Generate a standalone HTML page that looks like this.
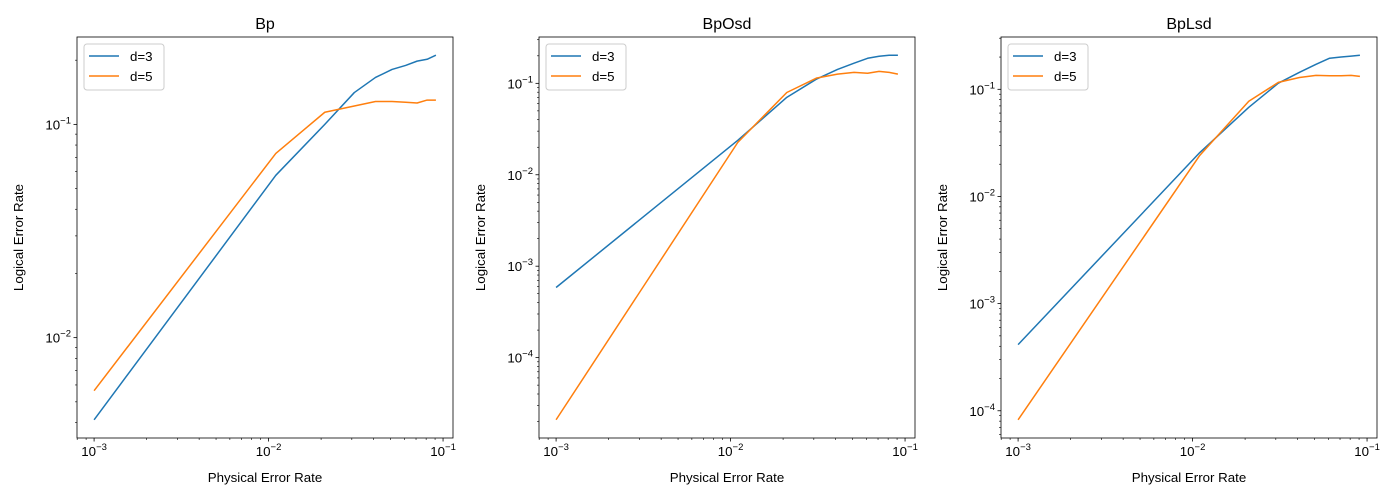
<!DOCTYPE html>
<html><head><meta charset="utf-8"><style>
body{margin:0;background:#fff}
svg{display:block;font-family:"Liberation Sans","DejaVu Sans",sans-serif}
</style></head><body>
<svg id="fig" width="1400" height="500" xmlns="http://www.w3.org/2000/svg"></svg>
<script>
const xVals = [0.001,0.011,0.021,0.031,0.041,0.051,0.061,0.071,0.081,0.091];
const titles = ["Bp","BpOsd","BpLsd"];
const seriesNames = ["d=3","d=5"];
const bpD3 = [0.00412,0.0577,0.100,0.141,0.166,0.181,0.189,0.198,0.202,0.211];
const bpD5 = [0.00564,0.0731,0.114,0.122,0.128,0.128,0.127,0.126,0.130,0.130];
const osdD3 = [0.000585,0.0238,0.0703,0.111,0.142,0.166,0.188,0.198,0.203,0.203];
const osdD5 = [0.0000209,0.0226,0.0794,0.114,0.126,0.132,0.129,0.135,0.132,0.126];
const lsdD3 = [0.000414,0.0257,0.0679,0.114,0.144,0.171,0.195,0.200,0.204,0.208];
const lsdD5 = [0.0000824,0.0242,0.0773,0.116,0.129,0.135,0.134,0.134,0.135,0.132];
const allSeries = [[bpD3,bpD5],[osdD3,osdD5],[lsdD3,lsdD5]];
const colors = ["#1f77b4","#ff7f0e"];
const axLefts = [77,539,1001];
const AW = 376, AT = 37, AH = 401;
const NS = "http://www.w3.org/2000/svg";
const svg = document.getElementById("fig");
function mk(tag, attrs, parent){const e=document.createElementNS(NS,tag);for(const k in attrs)e.setAttribute(k,attrs[k]);(parent||svg).appendChild(e);return e;}
function limits(arr){let lo=Infinity,hi=-Infinity;arr.forEach(v=>{const l=Math.log10(v);lo=Math.min(lo,l);hi=Math.max(hi,l);});const m=(hi-lo)*0.05;return [lo-m,hi+m];}
function supLabel(g,x,y,exp,anchor){
  const t=mk("text",{x:x,y:y,"font-size":"13.3","text-anchor":anchor,fill:"#000"},g);
  t.appendChild(document.createTextNode("10"));
  const s=mk("tspan",{"font-size":"9.5",dy:"-6"},t);
  s.textContent="\u2212"+Math.abs(exp);
  return t;
}
for(let p=0;p<3;p++){
  const L=axLefts[p];
  const g=mk("g",{});
  
  
  const xl=limits(xVals);
  const yl=limits(allSeries[p][0].concat(allSeries[p][1]));
  const X=v=>L+(Math.log10(v)-xl[0])/(xl[1]-xl[0])*AW;
  const Y=v=>AT+AH-(Math.log10(v)-yl[0])/(yl[1]-yl[0])*AH;
  // series
  for(let s=0;s<2;s++){
    const pts=xVals.map((x,i)=>X(x).toFixed(2)+","+Y(allSeries[p][s][i]).toFixed(2)).join(" ");
    const pl=mk("polyline",{points:pts,fill:"none",stroke:colors[s],"stroke-width":"1.5","stroke-linejoin":"round"},g);
    
    
  }
  // x ticks
  for(let d=Math.floor(xl[0]);d<=Math.ceil(xl[1]);d++){
    for(let m=1;m<10;m++){
      const lv=d+Math.log10(m); if(lv<xl[0]||lv>xl[1])continue;
      const px=X(Math.pow(10,lv));
      mk("line",{x1:px,x2:px,y1:AT+AH,y2:AT+AH+(m===1?3.5:2),stroke:"#000","stroke-width":m===1?0.8:0.6},g);
      if(m===1){const t=supLabel(g,px,AT+AH+18,d,"middle");
        
        }
    }
  }
  for(let d=Math.floor(yl[0]);d<=Math.ceil(yl[1]);d++){
    for(let m=1;m<10;m++){
      const lv=d+Math.log10(m); if(lv<yl[0]||lv>yl[1])continue;
      const py=Y(Math.pow(10,lv));
      mk("line",{x1:L,x2:L-(m===1?3.5:2),y1:py,y2:py,stroke:"#000","stroke-width":m===1?0.8:0.6},g);
      if(m===1){const t=supLabel(g,L-6,py+5,d,"end");
        
        }
    }
  }
  const fr=mk("rect",{x:L,y:AT,width:AW,height:AH,fill:"none",stroke:"#000","stroke-width":"0.8"},g);
  
  
  const ti=mk("text",{x:L+AW/2,y:29,"font-size":"16","text-anchor":"middle"},g);
  ti.textContent=titles[p];
  
  
  const xt=mk("text",{x:L+AW/2,y:482,"font-size":"13.3","text-anchor":"middle"},g);
  xt.textContent="Physical Error Rate";
  
  
  const yx=L-54, yy=AT+AH/2;
  const yt=mk("text",{x:yx,y:yy,"font-size":"13.3","text-anchor":"middle",transform:`rotate(-90 ${yx} ${yy})`},g);
  yt.textContent="Logical Error Rate";
  
  
  // legend
  const lg=mk("g",{},g);
  
  
  mk("rect",{x:L+7,y:AT+7,width:80,height:46,rx:3,fill:"#fff","fill-opacity":0.8,stroke:"#ccc","stroke-width":1},lg);
  for(let s=0;s<2;s++){
    const yy2=AT+19+s*20;
    const e=mk("g",{},lg);
    
    
    mk("line",{x1:L+12,x2:L+42,y1:yy2,y2:yy2,stroke:colors[s],"stroke-width":1.5},e);
    const t=mk("text",{x:L+53,y:yy2+5,"font-size":"13.3"},e);
    t.textContent=seriesNames[s];
  }
}
</script>
</body></html>
